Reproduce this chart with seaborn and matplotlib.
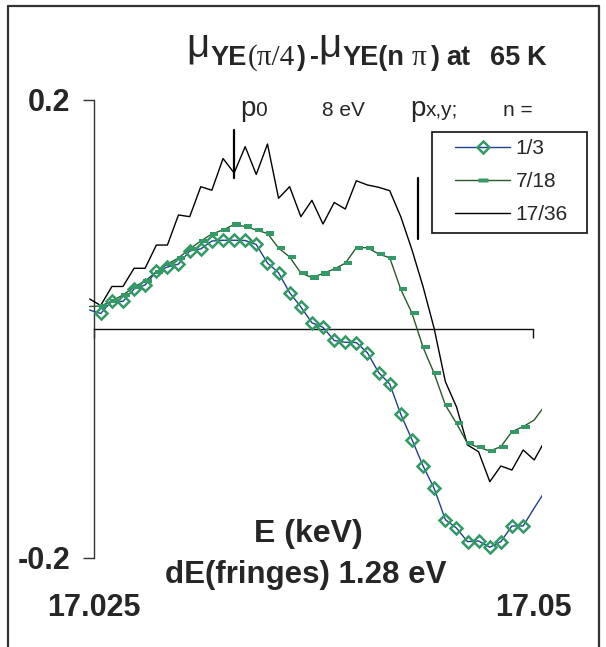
import numpy as np
import pandas as pd
import seaborn as sns
import matplotlib
matplotlib.use("Agg")
import matplotlib.pyplot as plt
from matplotlib.lines import Line2D
from matplotlib.patches import Rectangle
import matplotlib.transforms as mtransforms

# ---------------- data ----------------
energy_kev = [17.02475, 17.02538, 17.02602, 17.02665, 17.02728, 17.02791, 17.02855,
              17.02918, 17.02981, 17.03045, 17.03108, 17.03171, 17.03235, 17.03298,
              17.03361, 17.03424, 17.03488, 17.03551, 17.03614, 17.03678, 17.03741,
              17.03804, 17.03868, 17.03931, 17.03994, 17.04057, 17.04121, 17.04184,
              17.04247, 17.04311, 17.04374, 17.04437, 17.04501, 17.04564, 17.04627,
              17.04690, 17.04754, 17.04817, 17.04880, 17.04944, 17.05007, 17.05070]

mu_n_1_3 = [0.0163, 0.0133, 0.0242, 0.0238, 0.0347, 0.0382, 0.0500, 0.0539, 0.0565,
            0.0679, 0.0697, 0.0766, 0.0773, 0.0773, 0.0771, 0.0736, 0.0574, 0.0489,
            0.0315, 0.0190, 0.0052, 0.0012, -0.0103, -0.0119, -0.0121, -0.0210,
            -0.0383, -0.0483, -0.0748, -0.0970, -0.1200, -0.1395, -0.1669, -0.1742,
            -0.1861, -0.1855, -0.1910, -0.1861, -0.1724, -0.1724, -0.1567, -0.1416]

mu_n_7_18 = [0.0194, 0.0198, 0.0242, 0.0295, 0.0364, 0.0417, 0.0496, 0.0565, 0.0618,
             0.0697, 0.0766, 0.0828, 0.0863, 0.0911, 0.0893, 0.0863, 0.0832, 0.0705,
             0.0627, 0.0487, 0.0447, 0.0482, 0.0522, 0.0572, 0.0708, 0.0708, 0.0653,
             0.0620, 0.0344, 0.0135, -0.0163, -0.0390, -0.0667, -0.0827, -0.1002,
             -0.1036, -0.1069, -0.1031, -0.0900, -0.0856, -0.0798, -0.0667]

mu_n_17_36 = [0.0260, 0.0203, 0.0369, 0.0369, 0.0528, 0.0528, 0.0731, 0.0731, 0.0994,
              0.0979, 0.1241, 0.1210, 0.1487, 0.1361, 0.1591, 0.1348, 0.1614, 0.1140,
              0.1241, 0.0979, 0.1122, 0.0915, 0.1103, 0.1046, 0.1293, 0.1256, 0.1236,
              0.1206, 0.0979, 0.0688, 0.0367, 0.0003, -0.0463, -0.0682, -0.1016,
              -0.1075, -0.1337, -0.1200, -0.1235, -0.1060, -0.1147, -0.0973]

series_labels = ["1/3", "7/18", "17/36"]
x_ticks = [17.025, 17.05]
x_tick_labels = ["17.025", "17.05"]
y_ticks = [-0.2, 0.2]
y_tick_labels = ["-0.2", "0.2"]
p0_mark_x = 17.03298
p0_mark_y = [0.1737, 0.1317]
pxy_mark_x = 17.04343
pxy_mark_y = [0.1317, 0.0784]

# ---------------- style ----------------
sns.set_theme(style="white")
plt.rcParams["font.family"] = ["Liberation Sans", "DejaVu Sans"]

W, H = 606, 647
fig = plt.figure(figsize=(W / 100, H / 100), dpi=100)
fig.patch.set_facecolor("white")


def fx(px):
    return px / W


def fy(py):
    return 1 - py / H


ax_top, ax_bot, ax_left, ax_right = 95, 560, 88, 542
ax = fig.add_axes([fx(ax_left), fy(ax_bot), (ax_right - ax_left) / W, (ax_bot - ax_top) / H])
ax.set_facecolor("white")

C_NAVY = "#1f3f8f"
C_MARK = "#339966"
C_DKGREEN = "#2b5a2b"
C_BLACK = "#000000"

df = pd.DataFrame({
    "E": energy_kev * 3,
    "mu": mu_n_1_3 + mu_n_7_18 + mu_n_17_36,
    "n": [series_labels[0]] * len(energy_kev) + [series_labels[1]] * len(energy_kev)
         + [series_labels[2]] * len(energy_kev),
})
in_range = (df["E"] >= x_ticks[0]) & (df["E"] <= x_ticks[1])

# lines
sns.lineplot(data=df[df["n"] == "17/36"], x="E", y="mu", ax=ax, color=C_BLACK,
             lw=1.0, legend=False, zorder=3)
sns.lineplot(data=df[df["n"] == "7/18"], x="E", y="mu", ax=ax, color=C_DKGREEN,
             lw=1.0, legend=False, zorder=4)
sns.lineplot(data=df[df["n"] == "1/3"], x="E", y="mu", ax=ax, color=C_NAVY,
             lw=1.0, legend=False, zorder=5)

# markers (only within the x-axis range, as in the original)
dash_marker = [(-1, -0.5), (1, -0.5), (1, 0.5), (-1, 0.5), (-1, -0.5)]
sub = df[in_range & (df["n"] == "7/18")]
n_before = len(ax.collections)
sns.scatterplot(data=sub, x="E", y="mu", ax=ax, marker=dash_marker, s=36,
                color=C_MARK, edgecolor="none", linewidth=0, legend=False, zorder=6)
for coll in ax.collections[n_before:]:
    coll.set_offset_transform(mtransforms.offset_copy(ax.transData, fig=fig, x=2.5,
                                                      y=0, units="dots"))
sub = df[in_range & (df["n"] == "1/3")]
ax.plot(sub["E"], sub["mu"], ls="none", marker="D", ms=6.2, mfc="none",
        mec=C_MARK, mew=1.8, zorder=7)

# annotation bars
ax.plot([p0_mark_x, p0_mark_x], p0_mark_y, color="black", lw=1.6, zorder=8)
ax.plot([pxy_mark_x, pxy_mark_x], pxy_mark_y, color="black", lw=1.6, zorder=8)

# axes limits and spines
E_per_px = 0.025 / 439.0
ax.set_xlim(17.025 - 6 * E_per_px, 17.025 + 448 * E_per_px)
ax.set_ylim((328.7 - ax_bot) / 1144.25, (328.7 - ax_top) / 1144.25)
for s in ["top", "right"]:
    ax.spines[s].set_visible(False)
ax.spines["left"].set_position(("data", 17.025))
ax.spines["left"].set_bounds(-0.2, 0.2)
ax.spines["left"].set_color("#333333")
ax.spines["left"].set_linewidth(1.0)
ax.spines["bottom"].set_position(("data", 0.0))
ax.spines["bottom"].set_bounds(17.025, 17.05)
ax.spines["bottom"].set_color("#111111")
ax.spines["bottom"].set_linewidth(1.0)
ax.spines["left"].set_zorder(2)
ax.spines["bottom"].set_zorder(2)

ax.set_yticks(y_ticks)
ax.set_yticklabels(y_tick_labels, fontsize=22, fontweight="bold")
ax.tick_params(axis="y", direction="out", length=8, width=1, color="#333333",
               pad=9, left=True)
ax.set_xticks(x_ticks)
ax.set_xticklabels(x_tick_labels, fontsize=22, fontweight="bold")
ax.tick_params(axis="x", direction="out", length=6.5, width=1, color="#111111",
               pad=184, bottom=True)
ax.set_xlabel("")
ax.set_ylabel("")
ax.grid(False)

# axis texts
fig.text(fx(308.5), fy(534), "E (keV)", ha="center", va="center", fontsize=23,
         fontweight="bold")
fig.text(fx(306), fy(575), "dE(fringes) 1.28 eV", ha="center", va="center",
         fontsize=22.5, fontweight="bold")

# ---------------- title & annotations as text pieces ----------------
renderer = fig.canvas.get_renderer()


def seq(x_px, base_px, pieces):
    x = x_px
    for s, kw in pieces:
        t = fig.text(fx(x), fy(base_px), s, ha="left", va="baseline", **kw)
        bb = t.get_window_extent(renderer=renderer)
        x += bb.width
    return x


B = dict(fontsize=19.5, fontweight="bold")
SER = dict(fontsize=21, family=["Liberation Serif", "DejaVu Serif"])
MU = dict(fontsize=29, family=["Liberation Sans Narrow", "Liberation Sans", "DejaVu Sans"])

TB = 65
mu_end = seq(186, 57, [("μ", MU)])
xe = seq(max(208, mu_end + 1), TB, [("YE", B)])
xe = seq(xe + 1, TB, [("(π/4", SER)])
xe = seq(xe + 2, TB, [(")", B)])
seq(max(306, xe + 4), TB, [("-", B)])
mu_end = seq(318, 57, [("μ", MU)])
xe = seq(max(340, mu_end + 1), TB, [("YE(n", B)])
xe = seq(max(412, xe + 6), TB, [("π", SER)])
xe = seq(max(431, xe + 3), TB, [(")", B)])
xe = seq(max(446, xe + 6), TB, [("at", B)])
xe = seq(max(490, xe + 12), TB, [("65", B)])
seq(max(525, xe + 6), TB, [("K", B)])

REG_BIG = dict(fontsize=20)
REG_SM = dict(fontsize=15)
seq(240, 116, [("p", REG_BIG), ("0", REG_SM)])
seq(322, 116, [("8 eV", REG_SM)])
seq(410, 116, [("p", REG_BIG), ("x,y;", REG_SM)])
seq(503, 116, [("n =", REG_SM)])

# ---------------- legend ----------------
handles = [
    Line2D([], [], color=C_NAVY, lw=1.0, marker="D", ms=6.2, mfc="none",
           mec=C_MARK, mew=1.8),
    Line2D([], [], color=C_DKGREEN, lw=1.0, marker=dash_marker, ms=6.5,
           mfc=C_MARK, mec="none"),
    Line2D([], [], color=C_BLACK, lw=1.0),
]
leg = ax.legend(handles, series_labels, loc="upper left",
                bbox_to_anchor=(fx(455), fy(139)), bbox_transform=fig.transFigure,
                frameon=False, fontsize=15, handlelength=2.65, handletextpad=0.25,
                labelspacing=0.68, borderpad=0, borderaxespad=0)
fig.add_artist(Rectangle((fx(431.7), fy(232.7)), (587.3 - 431.7) / W,
                         (232.7 - 131.7) / H, transform=fig.transFigure,
                         fill=False, edgecolor="#222222", lw=1.3))

# outer frame (left, top, right)
fc = "#333333"
fig.add_artist(Line2D([fx(8), fx(8)], [fy(6), 0], transform=fig.transFigure, color=fc, lw=1.6))
fig.add_artist(Line2D([fx(8), fx(599)], [fy(6), fy(6)], transform=fig.transFigure, color=fc, lw=1.6))
fig.add_artist(Line2D([fx(599), fx(599)], [fy(6), 0], transform=fig.transFigure, color=fc, lw=1.6))

fig.savefig("out.png", dpi=100, facecolor="white")
